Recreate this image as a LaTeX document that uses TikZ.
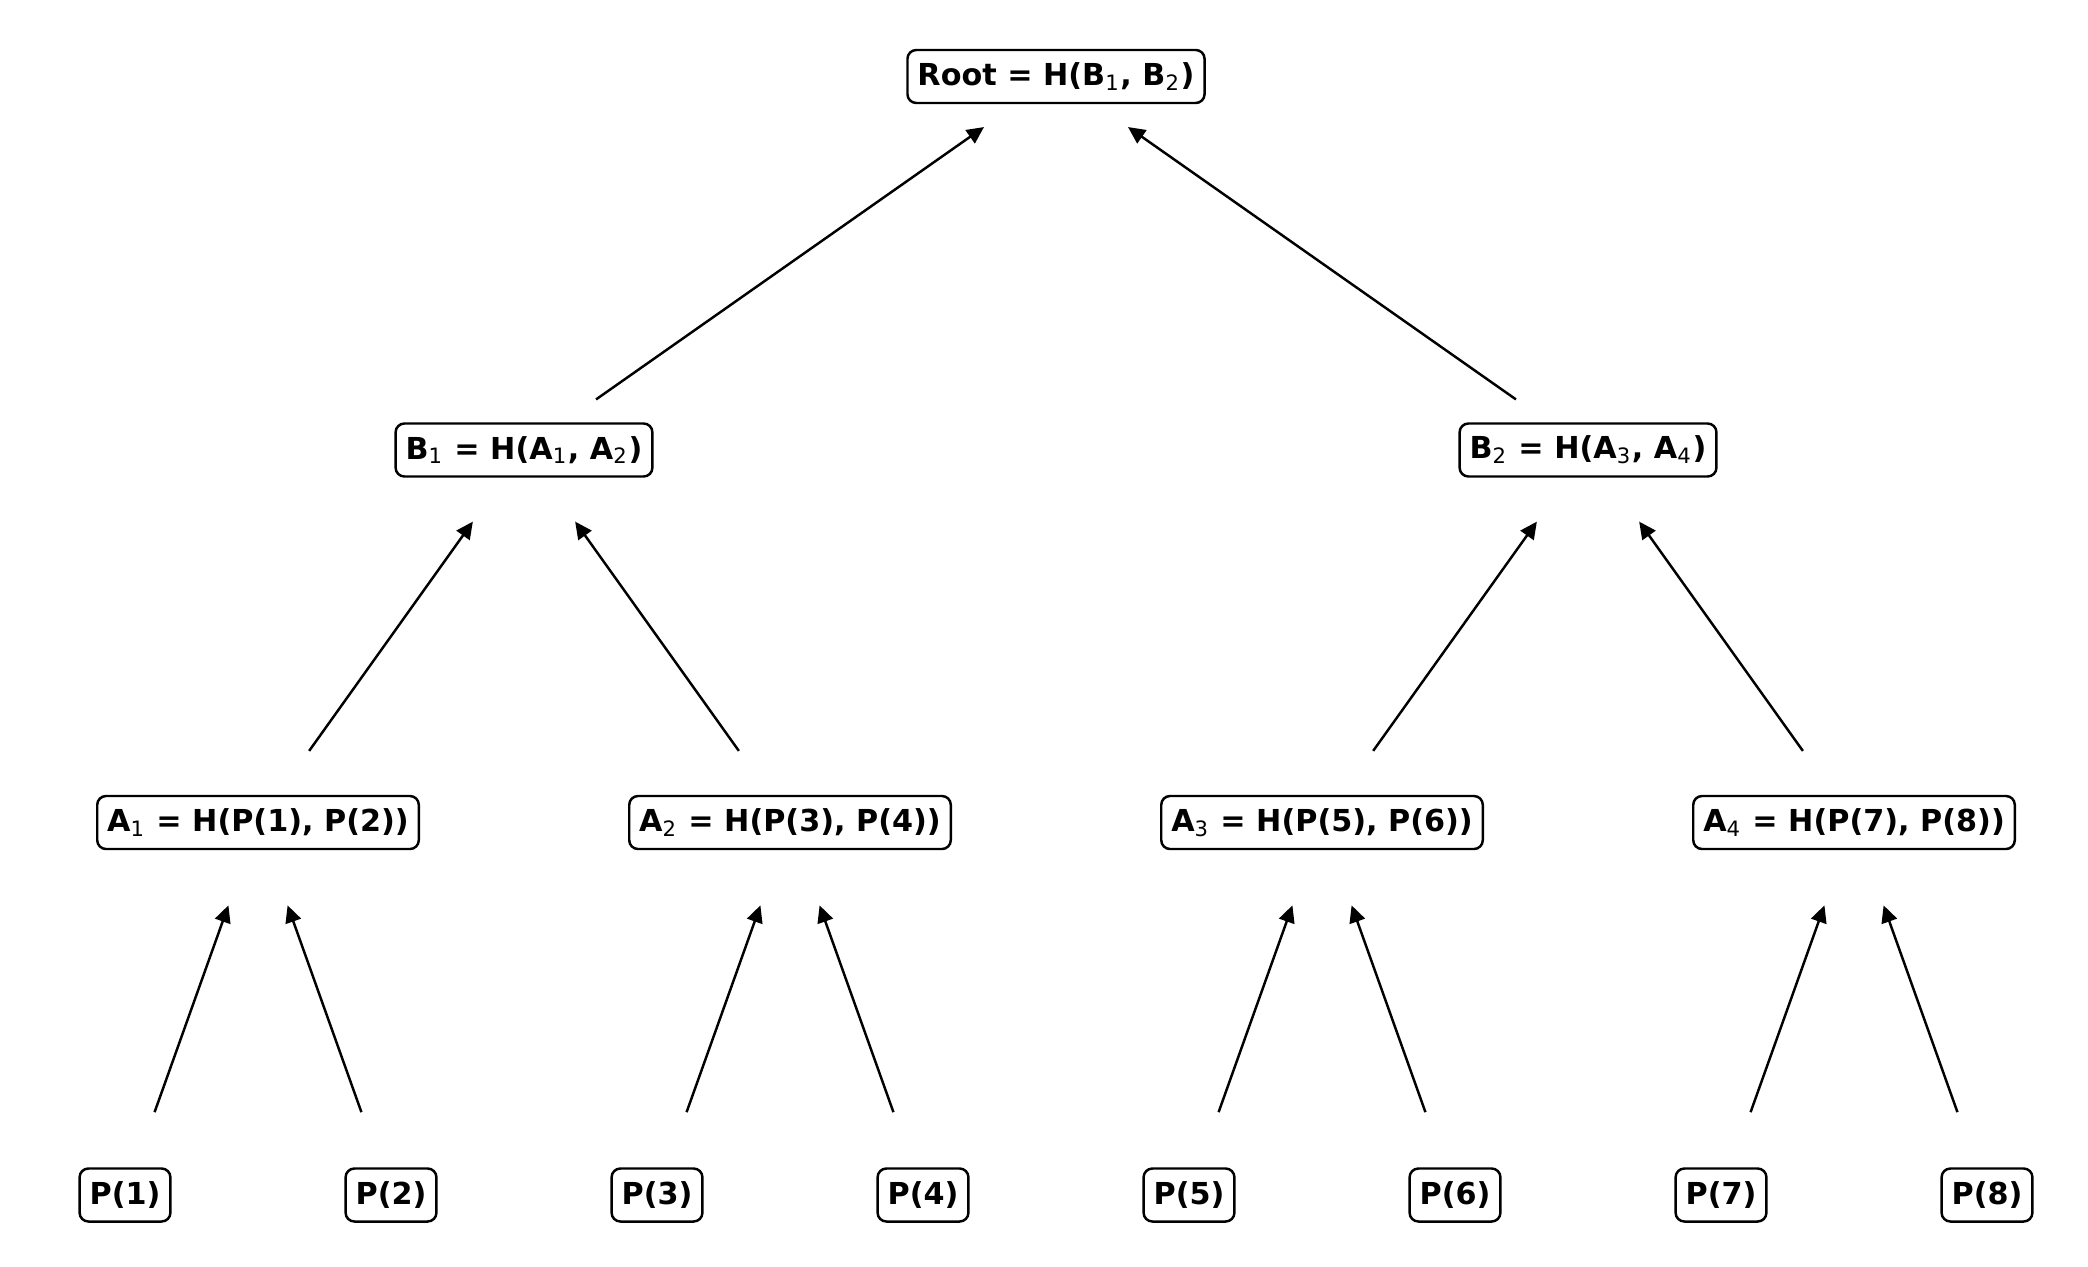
\documentclass[tikz,border=0pt]{standalone}
\usepackage{fontspec}
\setmainfont{DejaVu Sans}
\usetikzlibrary{arrows.meta}
\newcommand\ix[1]{\textsubscript{\mdseries#1}}

\begin{document}
\begin{tikzpicture}[>={Triangle[length=0.17cm,width=0.16cm]},line width=0.7pt,
 font=\fontsize{8.6}{10}\selectfont\bfseries,
 hb/.style={draw,rounded corners=2.5pt,fill=white,minimum height=0.53cm,inner xsep=0.1cm,inner ysep=0pt},
 up/.style={->,shorten <=0.88cm,shorten >=0.88cm}]
\useasboundingbox (0,0) rectangle (20.88,12.66);
\node[hb] (r) at (10.56,11.895) {Root = H(B\ix{1}, B\ix{2})};
\node[hb] (b1) at (5.24,8.16) {B\ix{1} = H(A\ix{1}, A\ix{2})};
\node[hb] (b2) at (15.88,8.16) {B\ix{2} = H(A\ix{3}, A\ix{4})};
\node[hb] (a1) at (2.58,4.435) {A\ix{1} = H(P(1), P(2))};
\node[hb] (a2) at (7.90,4.435) {A\ix{2} = H(P(3), P(4))};
\node[hb] (a3) at (13.22,4.435) {A\ix{3} = H(P(5), P(6))};
\node[hb] (a4) at (18.54,4.435) {A\ix{4} = H(P(7), P(8))};
\node[hb] (p1) at (1.25,0.71) {P(1)};
\node[hb] (p2) at (3.91,0.71) {P(2)};
\node[hb] (p3) at (6.57,0.71) {P(3)};
\node[hb] (p4) at (9.23,0.71) {P(4)};
\node[hb] (p5) at (11.89,0.71) {P(5)};
\node[hb] (p6) at (14.55,0.71) {P(6)};
\node[hb] (p7) at (17.21,0.71) {P(7)};
\node[hb] (p8) at (19.87,0.71) {P(8)};
\foreach \i/\j in {1/1,2/1,3/2,4/2,5/3,6/3,7/4,8/4} \draw[up] (p\i.center) -- (a\j.center);
\foreach \i/\j in {1/1,2/1,3/2,4/2} \draw[up] (a\i.center) -- (b\j.center);
\foreach \i in {1,2} \draw[up] (b\i.center) -- (r.center);
\end{tikzpicture}
\end{document}
